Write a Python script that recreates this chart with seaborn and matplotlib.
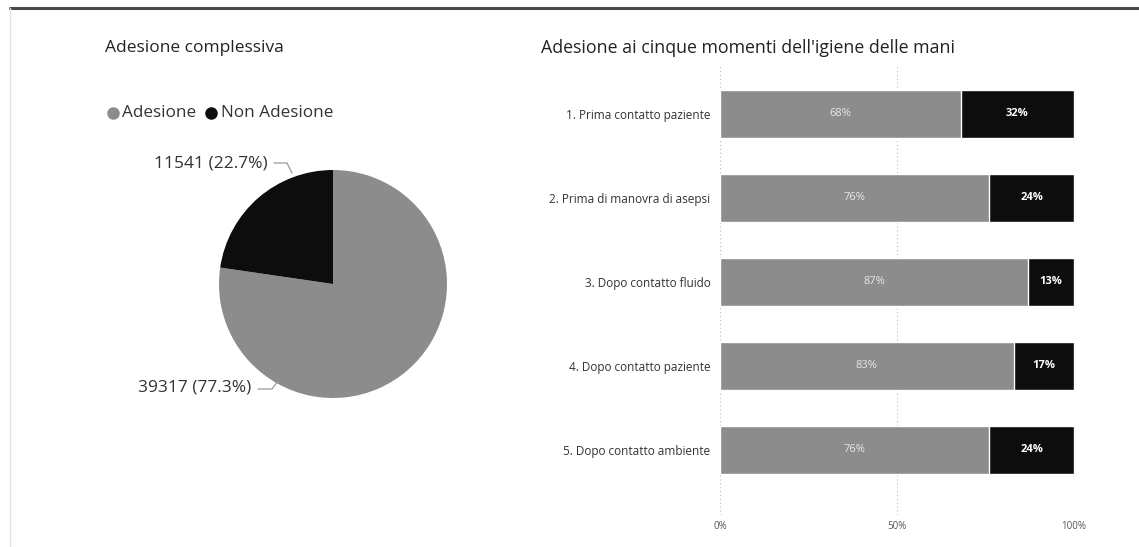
import matplotlib
matplotlib.use("Agg")
import matplotlib.pyplot as plt
from matplotlib.lines import Line2D
import seaborn as sns
import pandas as pd

# Overall adherence counts
pie_labels = ["Adesione", "Non Adesione"]
pie_counts = [39317, 11541]
pie_pcts = [77.3, 22.7]

# Adherence by hand-hygiene moment (%)
moments = [
    "1. Prima contatto paziente",
    "2. Prima di manovra di asepsi",
    "3. Dopo contatto fluido",
    "4. Dopo contatto paziente",
    "5. Dopo contatto ambiente",
]
adesione = [68, 76, 87, 83, 76]
non_adesione = [32, 24, 13, 17, 24]
x_ticks = [0, 50, 100]
x_tick_labels = ["0%", "50%", "100%"]

GRAY = "#8c8c8c"
BLACK = "#0d0d0d"
TEXT = "#333333"

sns.set_theme(style="white")
plt.rcParams["font.family"] = ["Open Sans", "DejaVu Sans"]

W, H = 1139, 547
fig = plt.figure(figsize=(W / 100, H / 100), dpi=100)
fig.patch.set_facecolor("white")

def fx(px):
    return px / W

def fy(py):
    return 1 - py / H

# frame lines
fig.add_artist(Line2D([fx(10), 1], [fy(8), fy(8)], color="#4a4a4a", lw=2.2))
fig.add_artist(Line2D([fx(10), fx(10)], [fy(8), 0], color="#e2e2e2", lw=1))

# titles
fig.text(fx(105), fy(48), "Adesione complessiva", fontsize=12.5, color="#222222",
         va="center", ha="left")
fig.text(fx(541), fy(48), "Adesione ai cinque momenti dell'igiene delle mani",
         fontsize=12.8, color="#222222", va="center", ha="left")

# legend
for (mx, tx), lab, col in zip([(113, 122), (211, 221)], pie_labels, [GRAY, BLACK]):
    fig.add_artist(Line2D([fx(mx)], [fy(113)], marker="o", ms=8, color=col, lw=0))
    fig.text(fx(tx), fy(113), lab, fontsize=12.3, color=TEXT, va="center", ha="left")

# ---- pie ----
cx, cy, r = 333, 284, 114
ax_pie = fig.add_axes([fx(cx - r), fy(cy + r), fx(2 * r), (2 * r) / H])
ax_pie.pie(pie_counts, colors=[GRAY, BLACK], startangle=90, counterclock=False,
           wedgeprops=dict(linewidth=0))
ax_pie.set_xlim(-1, 1)
ax_pie.set_ylim(-1, 1)
ax_pie.set_aspect("auto")
ax_pie.axis("off")

# pie labels with leader lines
fig.add_artist(Line2D([fx(274), fx(287), fx(292)], [fy(163), fy(163), fy(173)],
                      color="#999999", lw=0.9))
fig.text(fx(268), fy(163), f"{pie_counts[1]} ({pie_pcts[1]}%)", fontsize=12.5,
         color=TEXT, ha="right", va="center")
fig.add_artist(Line2D([fx(258), fx(272), fx(278)], [fy(389), fy(389), fy(381)],
                      color="#999999", lw=0.9))
fig.text(fx(251), fy(387), f"{pie_counts[0]} ({pie_pcts[0]}%)", fontsize=12.5,
         color=TEXT, ha="right", va="center")

# ---- stacked bar ----
df = pd.DataFrame({"moment": moments, "adesione": adesione,
                   "non_adesione": non_adesione})
df["totale"] = df["adesione"] + df["non_adesione"]

ax_x0, ax_x1 = 720, 1074
ax_top, ax_bot = 65, 515
ax_bar = fig.add_axes([fx(ax_x0), fy(ax_bot), fx(ax_x1 - ax_x0), (ax_bot - ax_top) / H])
sns.barplot(data=df, y="moment", x="totale", color=BLACK, width=0.57,
            orient="h", ax=ax_bar, saturation=1, zorder=2)
sns.barplot(data=df, y="moment", x="adesione", color=GRAY, width=0.57,
            orient="h", ax=ax_bar, saturation=1, zorder=3)

ax_bar.set_xlim(0, 100)
top_off = (114 - ax_top) / 84
bot_off = (ax_bot - 450) / 84
ax_bar.set_ylim(4 + bot_off, -top_off)
for v in x_ticks:
    ax_bar.axvline(v, color="#bbbbbb", lw=0.8, ls=(0, (1, 2.5)), zorder=1)
for s in ax_bar.spines.values():
    s.set_visible(False)
ax_bar.set_xticks(x_ticks)
ax_bar.set_xticklabels(x_tick_labels, fontsize=7, color="#555555")
ax_bar.tick_params(axis="x", length=0, pad=4)
ax_bar.tick_params(axis="y", length=0, pad=7)
ax_bar.set_yticks(range(len(moments)))
ax_bar.set_yticklabels(moments, fontsize=8.5, color=TEXT)
ax_bar.set_xlabel("")
ax_bar.set_ylabel("")

for i, (a, n) in enumerate(zip(adesione, non_adesione)):
    ax_bar.text(a / 2, i, f"{a}%", color="#e8e8e8", fontsize=8, ha="center",
                va="center", zorder=4)
    ax_bar.text(a + n / 2, i, f"{n}%", color="white", fontsize=8, ha="center",
                va="center", fontweight="bold", zorder=4)

fig.savefig("out.png", dpi=100, facecolor="white")
